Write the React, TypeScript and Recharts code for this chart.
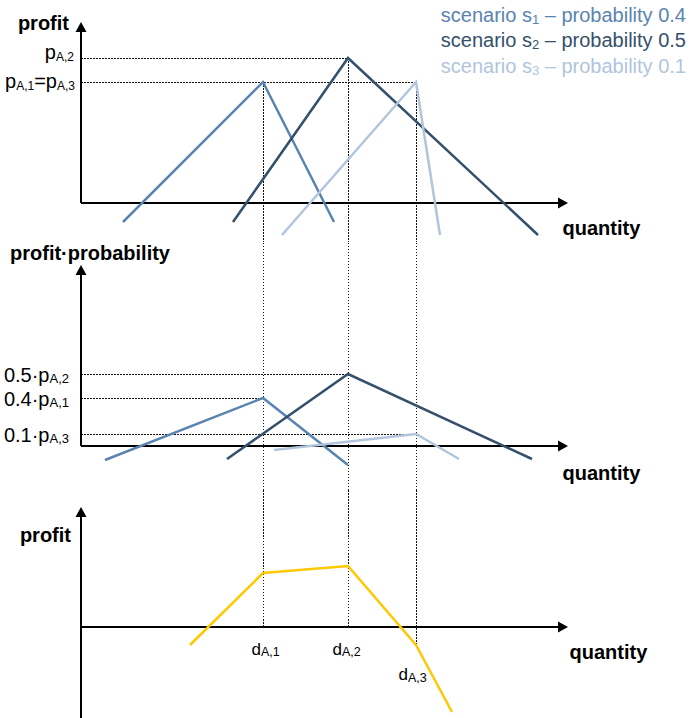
import React from 'react';
import { LineChart, Line, XAxis, YAxis, ReferenceLine, Legend } from 'recharts';

const FONT = '"Liberation Sans", Arial, sans-serif';
const WIDTH = 689;
const X_DOMAIN: [number, number] = [-81, 608];
const MARGIN = { top: 0, right: 0, bottom: 0, left: 0 };
const GUIDE = { stroke: '#111', strokeWidth: 1, strokeDasharray: '1.5 1.5', shapeRendering: 'crispEdges' };
const YELLOW = '#ffc800';

const SCENARIOS = [
  { id: 's1', index: '1', prob: '0.4', color: '#5a84b0' },
  { id: 's2', index: '2', prob: '0.5', color: '#34506b' },
  { id: 's3', index: '3', prob: '0.1', color: '#b1c5dc' },
];

// demand levels on the quantity axis
const DEMAND = [182, 267, 335];
const DEMAND_LABELS = ['d_{A,1}', 'd_{A,2}', 'd_{A,3}'];
const QUANTITY_END = 487;

// top: profit per scenario
const PROFIT_S1 = [{ q: 42, v: -19 }, { q: 182, v: 121 }, { q: 253, v: -19 }];
const PROFIT_S2 = [{ q: 152, v: -19 }, { q: 267, v: 145 }, { q: 457, v: -32 }];
const PROFIT_S3 = [{ q: 201, v: -32 }, { q: 335, v: 121 }, { q: 359, v: -32 }];
const PROFIT = [PROFIT_S1, PROFIT_S2, PROFIT_S3];
const PEAK = [121, 145, 121];

// middle: profit times probability
const WEIGHTED_S1 = [{ q: 24, v: -14 }, { q: 182, v: 48 }, { q: 267, v: -19 }];
const WEIGHTED_S2 = [{ q: 146, v: -13 }, { q: 267, v: 72 }, { q: 451, v: -13 }];
const WEIGHTED_S3 = [{ q: 193, v: -4 }, { q: 335, v: 12 }, { q: 378, v: -13 }];
const WEIGHTED = [WEIGHTED_S1, WEIGHTED_S2, WEIGHTED_S3];

// bottom: expected profit
const EXPECTED = [
  { q: 109, v: -18 },
  { q: 182, v: 54 },
  { q: 267, v: 61 },
  { q: 335, v: -18 },
  { q: 371, v: -85 },
];

const TOP_GUIDES = [
  { v: 145, to: 267, label: 'p_{A,2}' },
  { v: 121, to: 335, label: 'p_{A,1}=p_{A,3}' },
];
const MID_GUIDES = [
  { v: 72, to: 267, label: '0.5·p_{A,2}' },
  { v: 48, to: 182, label: '0.4·p_{A,1}' },
  { v: 12, to: 335, label: '0.1·p_{A,3}' },
];

// label nudges (px)
const TOP_GUIDE_NUDGE = [{ ox: -7, oy: 0.5 }, { ox: -6, oy: 5.5 }];
const DEMAND_NUDGE = [{ ox: -11.5, oy: 27.5 }, { ox: -15.5, oy: 27.5 }, { ox: -17.5, oy: 35 }];

const PANELS = {
  top: { y: 0, h: 242, domain: [-39, 203] as [number, number], yTip: 181 },
  mid: { y: 242, h: 248, domain: [-44, 204] as [number, number], yTip: 181 },
  bottom: { y: 490, h: 228, domain: [-91, 137] as [number, number], yTip: 120 },
};

function RichText({ x, y, text, size = 20, subSize = 13, subDy = 2, anchor = 'start', bold = false, fill = '#000' }: any) {
  const parts = text.split(/(_\{[^}]*\})/).filter(Boolean);
  let low = false;
  return (
    <text x={x} y={y} textAnchor={anchor} fontFamily={FONT} fontSize={size} fontWeight={bold ? 700 : 400} fill={fill}>
      {parts.map((part: string, i: number) => {
        const sub = part.startsWith('_{');
        const dy = sub === low ? 0 : sub ? subDy : -subDy;
        low = sub;
        return (
          <tspan key={i} dy={dy} fontSize={sub ? subSize : size}>
            {sub ? part.slice(2, -1) : part}
          </tspan>
        );
      })}
    </text>
  );
}

function EdgeLabel(props: any) {
  const { viewBox, fx = 0, fy = 0, ox = 0, oy = 0, text, size, subSize, subDy, anchor, bold } = props;
  if (!viewBox) return null;
  const x = viewBox.x + fx * (viewBox.width || 0) + ox;
  const y = viewBox.y + fy * (viewBox.height || 0) + oy;
  return <RichText x={x} y={y} text={text} size={size} subSize={subSize} subDy={subDy} anchor={anchor} bold={bold} />;
}

function ArrowLine(props: any) {
  const { x1, y1, x2, y2 } = props;
  const len = Math.hypot(x2 - x1, y2 - y1) || 1;
  const ux = (x2 - x1) / len;
  const uy = (y2 - y1) / len;
  const head = 10;
  const half = 5.5;
  const bx = x2 - ux * head;
  const by = y2 - uy * head;
  return (
    <g>
      <line x1={x1} y1={y1} x2={bx + ux} y2={by + uy} stroke="#000" strokeWidth={2} />
      <polygon points={`${x2},${y2} ${bx - uy * half},${by + ux * half} ${bx + uy * half},${by - ux * half}`} fill="#000" />
    </g>
  );
}

function ScenarioLegend(props: any) {
  const items = (props.payload || [])
    .map((entry: any) => SCENARIOS.find((s) => s.id === entry.value))
    .filter(Boolean);
  const list = items.length ? items : SCENARIOS;
  return (
    <div style={{ textAlign: 'right', fontFamily: FONT, fontSize: 20, lineHeight: '22.5px', whiteSpace: 'nowrap' }}>
      {list.map((s: any) => (
        <div key={s.id} style={{ color: s.color }}>
          scenario s<span style={{ fontSize: 13, position: 'relative', top: 2 }}>{s.index}</span> – probability {s.prob}
        </div>
      ))}
    </div>
  );
}

function axes(key: string, yFrom: number, yTip: number, yTitle: any, xTitle: any) {
  return [
    <ReferenceLine
      key={`${key}-x`}
      segment={[{ x: 0, y: 0 }, { x: QUANTITY_END, y: 0 }]}
      ifOverflow="visible"
      shape={ArrowLine}
      label={xTitle}
    />,
    <ReferenceLine
      key={`${key}-y`}
      segment={[{ x: 0, y: yFrom }, { x: 0, y: yTip }]}
      ifOverflow="visible"
      shape={ArrowLine}
      label={yTitle}
    />,
  ];
}

export default function App() {
  const { top, mid, bottom } = PANELS;
  return (
    <div style={{ position: 'absolute', left: 0, top: 0, width: WIDTH, height: 718, background: '#fff' }}>
      <div style={{ position: 'absolute', left: 0, top: top.y }}>
        <LineChart width={WIDTH} height={top.h} margin={MARGIN}>
          <XAxis type="number" dataKey="q" domain={X_DOMAIN} allowDataOverflow hide />
          <YAxis type="number" domain={top.domain} allowDataOverflow hide />
          {TOP_GUIDES.map((g, i) => (
            <ReferenceLine
              key={`tg${i}`}
              segment={[{ x: 0, y: g.v }, { x: g.to, y: g.v }]}
              ifOverflow="visible"
              {...GUIDE}
              label={<EdgeLabel text={g.label} anchor="end" subSize={12} subDy={2.5} {...TOP_GUIDE_NUDGE[i]} />}
            />
          ))}
          {DEMAND.map((d, i) => (
            <ReferenceLine
              key={`tv${i}`}
              segment={[{ x: d, y: PEAK[i] }, { x: d, y: top.domain[0] }]}
              ifOverflow="visible"
              {...GUIDE}
            />
          ))}
          {axes(
            'top',
            0,
            top.yTip,
            <EdgeLabel text="profit" bold anchor="end" ox={-12} oy={7.5} />,
            <EdgeLabel text="quantity" bold fx={1} ox={-5.5} oy={32} />,
          )}
          {SCENARIOS.map((s, i) => (
            <Line
              key={s.id}
              data={PROFIT[i]}
              dataKey="v"
              name={s.id}
              type="linear"
              stroke={s.color}
              strokeWidth={2.5}
              dot={false}
              activeDot={false}
              isAnimationActive={false}
            />
          ))}
          <Legend
            layout="vertical"
            align="center"
            verticalAlign="middle"
            wrapperStyle={{ top: 3.5, right: 3, left: 'auto', width: 'auto' }}
            content={ScenarioLegend}
          />
        </LineChart>
      </div>

      <div style={{ position: 'absolute', left: 0, top: mid.y }}>
        <LineChart width={WIDTH} height={mid.h} margin={MARGIN}>
          <XAxis type="number" dataKey="q" domain={X_DOMAIN} allowDataOverflow hide />
          <YAxis type="number" domain={mid.domain} allowDataOverflow hide />
          {MID_GUIDES.map((g, i) => (
            <ReferenceLine
              key={`mg${i}`}
              segment={[{ x: 0, y: g.v }, { x: g.to, y: g.v }]}
              ifOverflow="visible"
              {...GUIDE}
              label={<EdgeLabel text={g.label} anchor="end" ox={-12} oy={7.5} subSize={13} subDy={1} />}
            />
          ))}
          {DEMAND.map((d, i) => (
            <ReferenceLine key={`mv${i}`} x={d} ifOverflow="visible" {...GUIDE} />
          ))}
          {axes(
            'mid',
            0,
            mid.yTip,
            <EdgeLabel text="profit·probability" bold ox={-71} oy={-5.5} />,
            <EdgeLabel text="quantity" bold fx={1} ox={-5.5} oy={34} />,
          )}
          {SCENARIOS.map((s, i) => (
            <Line
              key={s.id}
              data={WEIGHTED[i]}
              dataKey="v"
              name={s.id}
              type="linear"
              stroke={s.color}
              strokeWidth={2.5}
              dot={false}
              activeDot={false}
              isAnimationActive={false}
            />
          ))}
        </LineChart>
      </div>

      <div style={{ position: 'absolute', left: 0, top: bottom.y }}>
        <LineChart width={WIDTH} height={bottom.h} margin={MARGIN}>
          <XAxis type="number" dataKey="q" domain={X_DOMAIN} allowDataOverflow hide />
          <YAxis type="number" domain={bottom.domain} allowDataOverflow hide />
          {DEMAND.map((d, i) => {
            const point = EXPECTED.find((p) => p.q === d);
            const end = Math.min(0, point ? point.v : 0);
            return (
              <ReferenceLine
                key={`bv${i}`}
                segment={[{ x: d, y: bottom.domain[1] }, { x: d, y: end }]}
                ifOverflow="visible"
                {...GUIDE}
                label={<EdgeLabel text={DEMAND_LABELS[i]} fy={1} size={17} subSize={12.5} subDy={1.5} {...DEMAND_NUDGE[i]} />}
              />
            );
          })}
          {axes(
            'bottom',
            bottom.domain[0],
            bottom.yTip,
            <EdgeLabel text="profit" bold anchor="end" ox={-10} oy={34.5} />,
            <EdgeLabel text="quantity" bold fx={1} ox={1.5} oy={31.5} />,
          )}
          <Line
            data={EXPECTED}
            dataKey="v"
            name="expected"
            type="linear"
            stroke={YELLOW}
            strokeWidth={2.5}
            dot={false}
            activeDot={false}
            isAnimationActive={false}
          />
        </LineChart>
      </div>
    </div>
  );
}
